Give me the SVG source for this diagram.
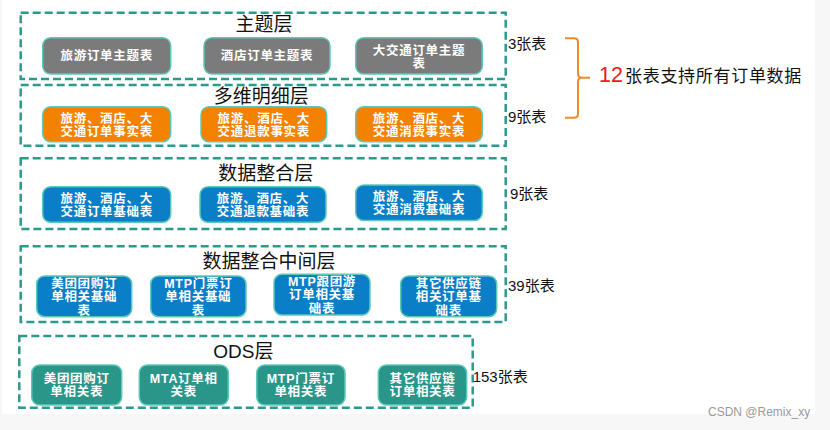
<svg xmlns="http://www.w3.org/2000/svg" width="830" height="430" viewBox="0 0 830 430">
<style>
.layer{fill:none;stroke:#2a9a8c;stroke-width:2.5;stroke-dasharray:8 4}
.node{stroke:#5cc9b8;stroke-width:1.5}
.grey{fill:#7b7b7b}
.orange{fill:#f28200}
.blue{fill:#0a7ec6}
.teal{fill:#2a968a}
.nt{font-family:"Liberation Sans","Noto Sans CJK SC",sans-serif;font-size:12.5px;letter-spacing:0.7px;font-weight:bold;fill:#fff;text-anchor:middle}
.title{font-family:"Liberation Sans","Noto Sans CJK SC",sans-serif;font-size:19px;fill:#111;text-anchor:middle}
.cnt{font-family:"Liberation Sans","Noto Sans CJK SC",sans-serif;font-size:15px;fill:#111}
</style>
<rect width="830" height="430" fill="#f7f7f7"/>
<rect x="2" y="0" width="813" height="414" fill="#fff"/>

<g id="layer-theme">
<rect class="layer" x="20.7" y="12.7" width="485" height="66.3"/>
<text class="title" x="264" y="31">主题层</text>
</g>
<g id="n-theme-1"><rect class="node grey" x="42.7" y="37.7" width="128" height="36.3" rx="8"/><text class="nt" x="106.7" y="60">旅游订单主题表</text></g>
<g id="n-theme-2"><rect class="node grey" x="204" y="37.7" width="126" height="36.3" rx="8"/><text class="nt" x="267" y="60">酒店订单主题表</text></g>
<g id="n-theme-3"><rect class="node grey" x="355.7" y="37.7" width="126.6" height="36.3" rx="8"/><text class="nt" x="419" y="54.5"><tspan x="419">大交通订单主题</tspan><tspan x="419" dy="13">表</tspan></text></g>

<g id="layer-detail">
<rect class="layer" x="20.7" y="85" width="485" height="60.7"/>
<text class="title" x="261.3" y="103">多维明细层</text>
</g>
<g id="n-detail-1"><rect class="node orange" x="42.7" y="106.7" width="128" height="35" rx="8"/><text class="nt" x="106.7" y="123"><tspan x="106.7">旅游、酒店、大</tspan><tspan x="106.7" dy="13">交通订单事实表</tspan></text></g>
<g id="n-detail-2"><rect class="node orange" x="201" y="106.7" width="125.7" height="35" rx="8"/><text class="nt" x="263.8" y="123"><tspan x="263.8">旅游、酒店、大</tspan><tspan x="263.8" dy="13">交通退款事实表</tspan></text></g>
<g id="n-detail-3"><rect class="node orange" x="355.7" y="106.7" width="126.6" height="35" rx="8"/><text class="nt" x="419" y="123"><tspan x="419">旅游、酒店、大</tspan><tspan x="419" dy="13">交通消费事实表</tspan></text></g>

<g id="layer-integrate">
<rect class="layer" x="20.7" y="158.3" width="485" height="70.7"/>
<text class="title" x="265.8" y="180">数据整合层</text>
</g>
<g id="n-int-1"><rect class="node blue" x="42.7" y="186.7" width="128" height="35.6" rx="8"/><text class="nt" x="106.7" y="203"><tspan x="106.7">旅游、酒店、大</tspan><tspan x="106.7" dy="13">交通订单基础表</tspan></text></g>
<g id="n-int-2"><rect class="node blue" x="200" y="186.7" width="126" height="35.6" rx="8"/><text class="nt" x="263" y="203"><tspan x="263">旅游、酒店、大</tspan><tspan x="263" dy="13">交通退款基础表</tspan></text></g>
<g id="n-int-3"><rect class="node blue" x="355.7" y="185" width="126.6" height="35.6" rx="8"/><text class="nt" x="419" y="201.3"><tspan x="419">旅游、酒店、大</tspan><tspan x="419" dy="13">交通消费基础表</tspan></text></g>

<g id="layer-middle">
<rect class="layer" x="20.7" y="246.3" width="485" height="75.7"/>
<text class="title" x="269" y="268">数据整合中间层</text>
</g>
<g id="n-mid-1"><rect class="node blue" x="36.7" y="276" width="95" height="40.7" rx="8"/><text class="nt" x="84.2" y="288"><tspan x="84.2">美团团购订</tspan><tspan x="84.2" dy="13.3">单相关基础</tspan><tspan x="84.2" dy="13.3">表</tspan></text></g>
<g id="n-mid-2"><rect class="node blue" x="150.7" y="276" width="95.3" height="40.7" rx="8"/><text class="nt" x="198.3" y="288"><tspan x="198.3">MTP门票订</tspan><tspan x="198.3" dy="13.3">单相关基础</tspan><tspan x="198.3" dy="13.3">表</tspan></text></g>
<g id="n-mid-3"><rect class="node blue" x="274" y="274.3" width="96" height="40.7" rx="8"/><text class="nt" x="322" y="286"><tspan x="322">MTP跟团游</tspan><tspan x="322" dy="13.3">订单相关基</tspan><tspan x="322" dy="13.3">础表</tspan></text></g>
<g id="n-mid-4"><rect class="node blue" x="400.7" y="276" width="96" height="40.7" rx="8"/><text class="nt" x="448.7" y="288"><tspan x="448.7">其它供应链</tspan><tspan x="448.7" dy="13.3">相关订单基</tspan><tspan x="448.7" dy="13.3">础表</tspan></text></g>

<g id="layer-ods">
<rect class="layer" x="19.3" y="336" width="453.4" height="71.7"/>
<text class="title" x="243.3" y="357.7">ODS层</text>
</g>
<g id="n-ods-1"><rect class="node teal" x="31.7" y="365" width="90" height="40" rx="8"/><text class="nt" x="76.7" y="383"><tspan x="76.7">美团团购订</tspan><tspan x="76.7" dy="13">单相关表</tspan></text></g>
<g id="n-ods-2"><rect class="node teal" x="139.3" y="365" width="89" height="40" rx="8"/><text class="nt" x="183.8" y="383"><tspan x="183.8">MTA订单相</tspan><tspan x="183.8" dy="13">关表</tspan></text></g>
<g id="n-ods-3"><rect class="node teal" x="256.7" y="365" width="88.3" height="40" rx="8"/><text class="nt" x="300.8" y="383"><tspan x="300.8">MTP门票订</tspan><tspan x="300.8" dy="13">单相关表</tspan></text></g>
<g id="n-ods-4"><rect class="node teal" x="378.3" y="365" width="88.4" height="40" rx="8"/><text class="nt" x="422.5" y="383"><tspan x="422.5">其它供应链</tspan><tspan x="422.5" dy="13">订单相关表</tspan></text></g>

<g id="counts">
<text class="cnt" x="508" y="48.5">3张表</text>
<text class="cnt" x="508" y="122">9张表</text>
<text class="cnt" x="510" y="198.5">9张表</text>
<text class="cnt" x="508" y="291">39张表</text>
<text class="cnt" x="472.7" y="381.5">153张表</text>
</g>

<g id="connectors">
<path d="M565,38.3 H574 Q578,38.3 578,42.3 V73.7 Q578,77.7 582,77.7 H590 M582,77.7 Q578,77.7 578,81.7 V113.7 Q578,117.7 574,117.7 H565" fill="none" stroke="#f0892a" stroke-width="2"/>
</g>

<g id="summary">
<text x="599" y="82" font-family="Liberation Sans,sans-serif" font-size="21.5" fill="#f01818">12</text>
<text x="625" y="82" font-family="Liberation Sans,'Noto Sans CJK SC',sans-serif" font-size="17" letter-spacing="0.7" fill="#111">张表支持所有订单数据</text>
</g>

<text x="708" y="416" font-family="Liberation Sans,sans-serif" font-size="12" fill="#999">CSDN @Remix_xy</text>
</svg>
